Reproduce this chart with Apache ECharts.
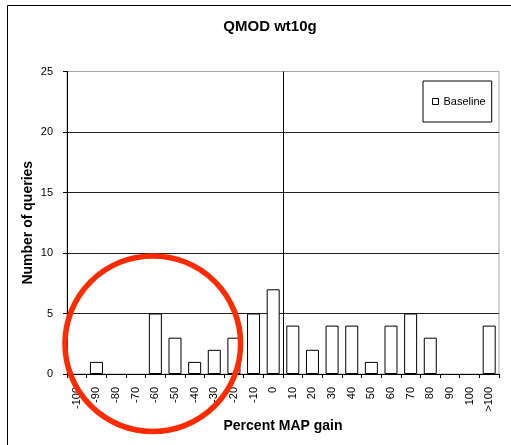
<!DOCTYPE html>
<html><head><meta charset="utf-8">
<script src="https://cdn.jsdelivr.net/npm/echarts@6/dist/echarts.min.js"></script>
<style>html,body{margin:0;padding:0;background:#fff}#c{width:511px;height:445px}</style>
</head><body><div id="c"></div>
<script>
const categories = ['-100','-90','-80','-70','-60','-50','-40','-30','-20','-10','0','10','20','30','40','50','60','70','80','90','100','>100'];
const baseline = [0,1,0,0,5,3,1,2,3,5,7,4,2,4,4,1,4,5,3,0,0,4];
const yTicks = [0,5,10,15,20,25];
const zeroLinePos = 11; // boundary between "0" and "10"

const font = 'Liberation Sans, Arial, sans-serif';
const chart = echarts.init(document.getElementById('c'), null, {renderer:'canvas'});
chart.setOption({
  animation:false,
  backgroundColor:'#fff',
  title:{text:'QMOD wt10g', left:265, textAlign:'center', top:14,
    textStyle:{fontFamily:font, fontSize:15, fontWeight:'bold', color:'#000'}},
  legend:{data:['Baseline'], left:423, top:81, orient:'vertical',
    padding:[15,6,15,9], itemWidth:6, itemHeight:6, itemGap:3, icon:'rect',
    borderColor:'#000', borderWidth:1, backgroundColor:'#fff',
    itemStyle:{color:'#fff', borderColor:'#000', borderWidth:1},
    textStyle:{fontFamily:font, fontSize:11, color:'#000', padding:[0,0,0,0]}},
  grid:{left:67, right:12, top:71.5, bottom:71, show:true, borderColor:'#a6a6a6', borderWidth:1},
  graphic:[
    {type:'rect', shape:{x:7.5,y:5.5,width:520,height:460}, style:{fill:'none', stroke:'#000', lineWidth:1}, z:-10},
    {type:'circle', shape:{cx:152.8, cy:343.7, r:87.8}, style:{fill:'none', stroke:'#ff2a00', lineWidth:5.5}, z:100}
  ],
  xAxis:[{
    type:'category', data:categories, boundaryGap:true,
    name:'Percent MAP gain', nameLocation:'middle', nameGap:45, nameMoveOverlap:false,
    nameTextStyle:{fontFamily:font, fontSize:14, fontWeight:'bold', color:'#000'},
    axisLine:{show:true, lineStyle:{color:'#000', width:1}},
    axisTick:{show:true, alignWithLabel:false, length:4, lineStyle:{color:'#000'}},
    axisLabel:{rotate:90, interval:0, margin:13, fontFamily:font, fontSize:11, color:'#000'},
    splitLine:{show:false}
  },{
    type:'value', min:0, max:categories.length, show:false
  }],
  yAxis:{
    type:'value', min:yTicks[0], max:yTicks[yTicks.length-1], interval:5,
    name:'Number of queries', nameLocation:'middle', nameGap:32, nameMoveOverlap:false,
    nameTextStyle:{fontFamily:font, fontSize:14, fontWeight:'bold', color:'#000'},
    axisLine:{show:true, lineStyle:{color:'#000', width:1}},
    axisTick:{show:true, length:4, lineStyle:{color:'#000'}},
    axisLabel:{margin:14, fontFamily:font, fontSize:11, color:'#000'},
    splitLine:{show:true, lineStyle:{color:['#222','#222','#222','#222','#222','#a6a6a6'], width:1}}
  },
  series:[{
    name:'Baseline', type:'bar', barWidth:13,
    data:baseline.map(v => v === 0 ? {value:v, itemStyle:{borderWidth:0}} : v),
    itemStyle:{color:'#fff', borderColor:'#000', borderWidth:1}
  },{
    type:'line', xAxisIndex:1, data:[], silent:true,
    markLine:{symbol:['none','none'], silent:true, label:{show:false},
      lineStyle:{color:'#000', width:1, type:'solid'},
      data:[{xAxis:zeroLinePos}]}
  }]
});
</script></body></html>
